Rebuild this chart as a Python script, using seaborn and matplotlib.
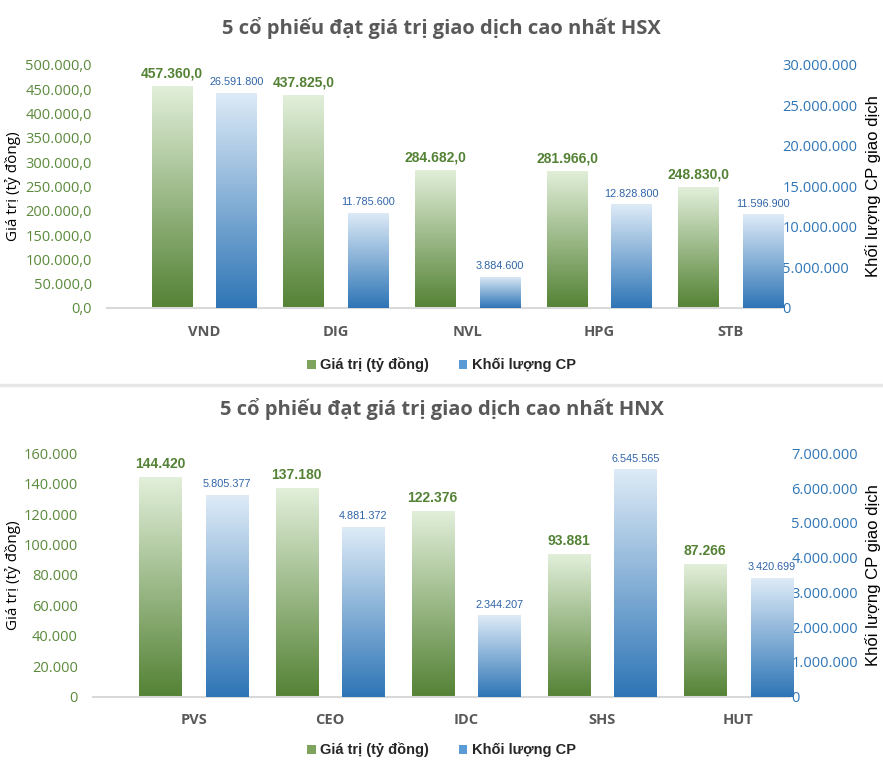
import numpy as np
import pandas as pd
import matplotlib
matplotlib.use('Agg')
import matplotlib.pyplot as plt
import seaborn as sns
from matplotlib.colors import LinearSegmentedColormap
from matplotlib.patches import Patch
from matplotlib.lines import Line2D

# du lieu HSX
hsx_ma = ['VND', 'DIG', 'NVL', 'HPG', 'STB']
hsx_gia_tri = [457360.0, 437825.0, 284682.0, 281966.0, 248830.0]
hsx_khoi_luong = [26591800, 11785600, 3884600, 12828800, 11596900]

# du lieu HNX
hnx_ma = ['PVS', 'CEO', 'IDC', 'SHS', 'HUT']
hnx_gia_tri = [144420, 137180, 122376, 93881, 87266]
hnx_khoi_luong = [5805377, 4881372, 2344207, 6545565, 3420699]

S_GT = 'Giá trị (tỷ đồng)'
S_KL = 'Khối lượng CP'

sns.set_style('white')
plt.rcParams['font.family'] = ['Open Sans', 'DejaVu Sans']

XANH_LA = '#548235'
XANH_LA_NHAT = '#e2efda'
XANH_DUONG = '#2e75b6'
XANH_DUONG_NHAT = '#deebf7'
ARIAL = ['Liberation Sans', 'DejaVu Sans']


def vn(v, dec=0):
    s = f"{v:,.{dec}f}"
    return s.replace(',', '#').replace('.', ',').replace('#', '.')


def to_mau(ax, c_duoi, c_tren):
    cmap = LinearSegmentedColormap.from_list('grad', [c_duoi, c_tren])
    grad = np.linspace(0, 1, 256).reshape(-1, 1)
    xl, yl = ax.get_xlim(), ax.get_ylim()
    for p in list(ax.patches):
        x, w, h = p.get_x(), p.get_width(), p.get_height()
        im = ax.imshow(grad, cmap=cmap, origin='lower', extent=[x, x + w, 0, h],
                       aspect='auto', zorder=2, interpolation='bilinear')
        im.set_clip_path(p)
        p.set_facecolor('none')
        p.set_edgecolor('none')
    ax.set_xlim(xl)
    ax.set_ylim(yl)


def ve(rect, ma, gia_tri, khoi_luong, ymax1, step1, dec1, ymax2, step2,
       ylab_x, y2lab_x, title, title_y, leg_y):
    df1 = pd.DataFrame({'ma': ma, 'series': S_GT, 'value': gia_tri})
    df2 = pd.DataFrame({'ma': ma, 'series': S_KL, 'value': khoi_luong})

    ax1 = fig.add_axes(rect)
    ax2 = ax1.twinx()

    sns.barplot(data=df1, x='ma', y='value', hue='series', hue_order=[S_GT, S_KL],
                order=ma, dodge=True, width=0.98, gap=0.37, errorbar=None,
                palette={S_GT: XANH_LA, S_KL: XANH_DUONG}, legend=False, ax=ax1)
    sns.barplot(data=df2, x='ma', y='value', hue='series', hue_order=[S_GT, S_KL],
                order=ma, dodge=True, width=0.98, gap=0.37, errorbar=None,
                palette={S_GT: XANH_LA, S_KL: XANH_DUONG}, legend=False, ax=ax2)

    for ax in (ax1, ax2):
        ax.set_xlim(-0.74, 4.38)
    ax1.set_ylim(0, ymax1)
    ax2.set_ylim(0, ymax2)

    to_mau(ax1, XANH_LA, XANH_LA_NHAT)
    to_mau(ax2, XANH_DUONG, XANH_DUONG_NHAT)

    # nhan du lieu
    for p, v in zip(ax1.patches, gia_tri):
        ax1.annotate(vn(v, dec1), (p.get_x() + p.get_width() / 2, p.get_height()),
                     xytext=(0, 4), textcoords='offset points', ha='center', va='bottom',
                     fontsize=10, fontweight='bold', color=XANH_LA, family=ARIAL)
    for p, v in zip(ax2.patches, khoi_luong):
        ax2.annotate(vn(v), (p.get_x() + p.get_width() / 2, p.get_height()),
                     xytext=(0, 4), textcoords='offset points', ha='center', va='bottom',
                     fontsize=7.8, color='#2f64a8', family=ARIAL)

    ax1.set_yticks(np.arange(0, ymax1 + 1, step1))
    ax1.set_yticklabels([vn(t, dec1) for t in ax1.get_yticks()])
    ax2.set_yticks(np.arange(0, ymax2 + 1, step2))
    ax2.set_yticklabels([vn(t) for t in ax2.get_yticks()])

    ax1.tick_params(axis='y', length=0, pad=11, labelsize=10.5, labelcolor='#5b8a3c')
    ax2.tick_params(axis='y', length=0, pad=1, labelsize=10.5, labelcolor=XANH_DUONG)
    ax1.tick_params(axis='x', length=0, pad=12)
    ax2.tick_params(axis='x', length=0)
    for lb in ax1.get_xticklabels():
        lb.set_fontweight('bold')
        lb.set_fontsize(10.5)
        lb.set_color('#595959')

    ax1.set_xlabel('')
    ax2.set_xlabel('')
    ax1.set_ylabel('Giá trị (tỷ đồng)', fontsize=11, color='black')
    ax1.yaxis.set_label_coords(ylab_x, 0.5)
    ax2.set_ylabel('Khối lượng CP giao dịch', fontsize=12, color='black',
                   family=ARIAL, rotation=90)
    ax2.yaxis.set_label_coords(y2lab_x, 0.5)

    for s in ax1.spines.values():
        s.set_visible(False)
    for s in ax2.spines.values():
        s.set_visible(False)
    ax1.spines['bottom'].set_visible(True)
    ax1.spines['bottom'].set_color('#d9d9d9')
    ax1.spines['bottom'].set_linewidth(1.5)

    fig.text(0.5, title_y, title, ha='center', va='center', fontsize=14.5,
             fontweight='bold', color='#595959')

    handles = [Patch(facecolor='#7ea35d', edgecolor='none'),
               Patch(facecolor='#5b9bd5', edgecolor='none')]
    fig.legend(handles, [S_GT, S_KL], loc='center', bbox_to_anchor=(0.5, leg_y),
               ncol=2, frameon=False, handlelength=0.6, handleheight=0.6,
               handletextpad=0.3, columnspacing=2.0,
               prop={'family': ARIAL, 'weight': 'bold', 'size': 10.5})


W, H = 883, 777
fig = plt.figure(figsize=(W / 100, H / 100), dpi=100)

ve([107 / W, 1 - 308 / H, 674 / W, 243 / H], hsx_ma, hsx_gia_tri, hsx_khoi_luong,
   500000, 50000, 1, 30000000, 5000000, -0.127, 1.125,
   '5 cổ phiếu đạt giá trị giao dịch cao nhất HSX', 1 - 28 / H, 1 - 365 / H)

ve([93 / W, 1 - 696.7 / H, 697 / W, 243.4 / H], hnx_ma, hnx_gia_tri, hnx_khoi_luong,
   160000, 20000, 0, 7000000, 1000000, -0.103, 1.108,
   '5 cổ phiếu đạt giá trị giao dịch cao nhất HNX', 1 - 409 / H, 1 - 750 / H)

# duong phan cach giua hai bieu do
fig.add_artist(Line2D([0, 1], [1 - 385 / H, 1 - 385 / H], color='#e6e6e6', linewidth=2.5))

fig.savefig('out.png', dpi=100)
